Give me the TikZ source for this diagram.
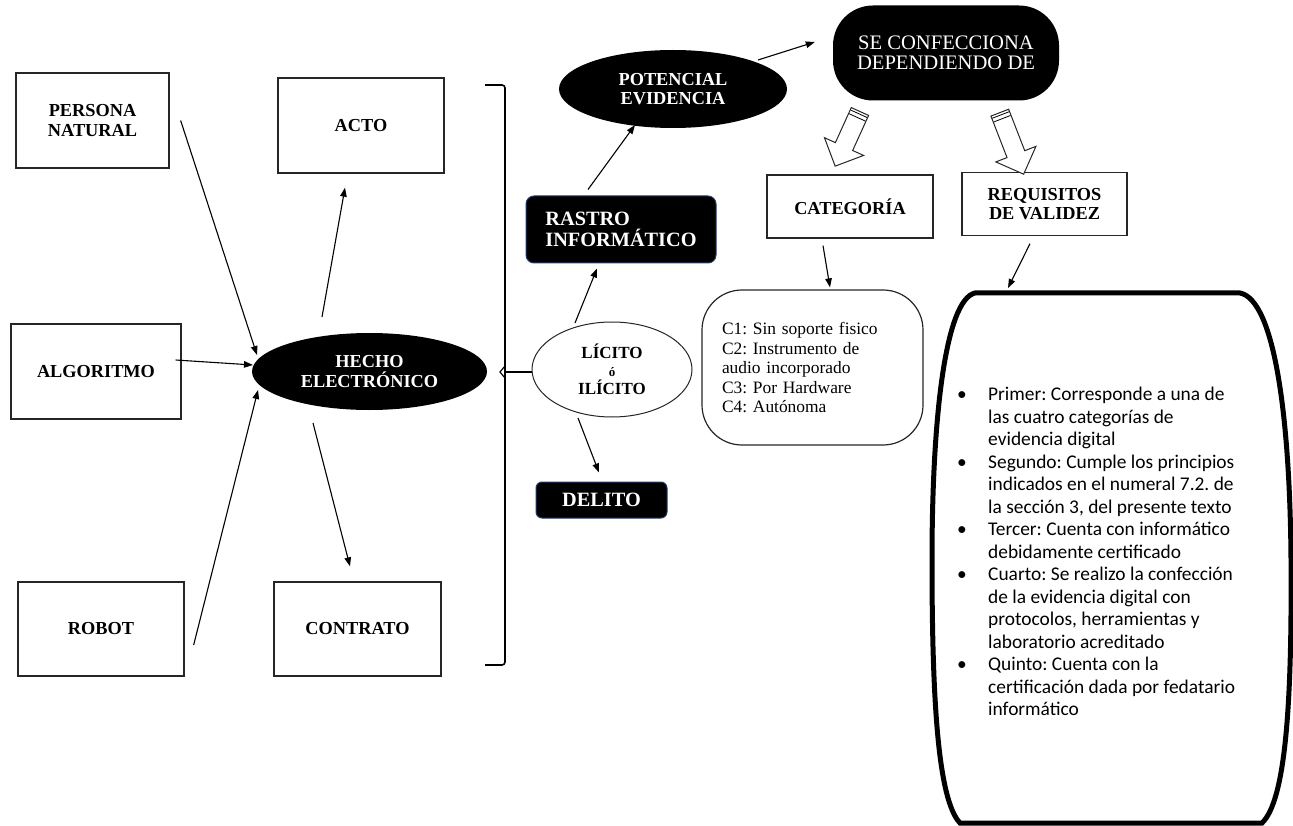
\documentclass[tikz,border=0pt]{standalone}
\usepackage{fontspec}
\setmainfont{Liberation Serif}
\newfontfamily\calibfont{Carlito}
\usetikzlibrary{arrows.meta,shapes.geometric,shapes.arrows,calc}
\definecolor{navyedge}{RGB}{40,60,105}
\frenchspacing
\newcommand\lab{\fontsize{18.3}{19.8}\selectfont\bfseries}
\newcommand\labbig{\fontsize{20.3}{20.5}\selectfont\bfseries}
\tikzset{
  sqbox/.style={draw=black!85, line width=1.3pt, fill=white, align=center, font=\lab, inner sep=0pt},
  blackell/.style={ellipse, fill=black, text=white, align=center, font=\lab, inner sep=0pt},
  blackbox/.style={rounded corners=8pt, fill=black, draw=navyedge, line width=1pt, text=white, inner sep=0pt},
  arr/.style={-{Triangle[length=9pt,width=6.5pt]}, line width=1.1pt},
  hollow/.style={single arrow, draw=black!85, line width=1pt, fill=white, inner xsep=0pt, inner ysep=9pt,
    single arrow head extend=12pt, minimum width=0pt},
}
\begin{document}
\begin{tikzpicture}[x=1pt,y=-1pt]
\useasboundingbox (0,0) rectangle (1293,826);

% left column boxes
\node[sqbox, minimum width=153pt, minimum height=95pt] (persona) at (92.5,120.5) {PERSONA\\NATURAL};
\node[sqbox, minimum width=170pt, minimum height=95pt] (algoritmo) at (96,371.5) {ALGORITMO};
\node[sqbox, minimum width=166pt, minimum height=94pt] (robot) at (101,629) {ROBOT};
\node[sqbox, minimum width=166pt, minimum height=95pt] (acto) at (361,125.5) {ACTO};
\node[sqbox, minimum width=167pt, minimum height=94pt] (contrato) at (357.5,629) {CONTRATO};

% central ellipse
\node[blackell, minimum width=235pt, minimum height=77pt] (hecho) at (369.5,371.5) {HECHO\\ELECTR\'ONICO};

% bracket
\draw[line width=1.6pt, rounded corners=3pt] (485,85) -- (505,85) -- (505,665) -- (485,665);
\draw[line width=1.2pt] (505,366) -- (500,372) -- (505,378);
\coordinate (brk) at (505,372);

% right of bracket
\node[ellipse, draw=black!85, line width=1pt, fill=white, minimum width=160pt, minimum height=95pt, inner sep=0pt, align=center,
  font=\fontsize{17}{19.5}\selectfont\bfseries] (licito) at (612,369.5) {L\'ICITO\\[-2pt]{\fontsize{13}{13}\selectfont \'o}\\[-1pt]IL\'ICITO};
\draw[line width=1.6pt] (brk) -- (licito.west |- brk);

\node[blackbox, minimum width=190pt, minimum height=67pt, align=left, font=\labbig] (rastro) at (621,229.5) {RASTRO\\INFORM\'ATICO};
\node[blackbox, rounded corners=6pt, minimum width=131pt, minimum height=36pt, font=\labbig] (delito) at (601.5,500) {DELITO};

\node[blackell, minimum width=228pt, minimum height=78pt] (potencial) at (673,89) {POTENCIAL\\EVIDENCIA};

\node[fill=black, rounded corners=40pt, minimum width=226pt, minimum height=95pt, text=white, align=center, inner sep=0pt,
  font=\fontsize{20.6}{20.5}\selectfont] (se) at (946,53) {SE CONFECCIONA\\DEPENDIENDO DE};

\node[sqbox, minimum width=166pt, minimum height=63pt] (categoria) at (850,206.5) {CATEGOR\'IA};
\node[sqbox, minimum width=165pt, minimum height=63pt] (requisitos) at (1044.5,204) {REQUISITOS\\DE VALIDEZ};

% hollow arrows
\node[hollow, minimum height=60pt, rotate=245.6] (hA) at (849.5,134.5) {};
\node[hollow, minimum height=66pt, rotate=291.2] (hB) at (1010,139) {};
\foreach \h in {hA,hB}{
  \foreach \d in {3,7}{
    \coordinate (t1) at ($(\h.tail)!\d pt!(\h.center)$);
    \draw[line width=0.8pt] ($(t1)!9pt!90:(\h.center)$) -- ($(t1)!9pt!-90:(\h.center)$);
  }
}

% C box
\node[draw=black!85, line width=1.2pt, rounded corners=40pt, minimum width=221pt, minimum height=155pt, align=left,
  text width=181pt, inner sep=0pt, font=\fontsize{17.4}{19.5}\selectfont] (cbox) at (812.5,367.5)
  {C1: Sin soporte fisico\\C2: Instrumento de\\audio incorporado\\C3: Por Hardware\\C4: Aut\'onoma};

% big box
\draw[line width=5pt] (975,293) -- (1240,293) .. controls (1275,300) and (1290,420) .. (1291,560)
  .. controls (1292,700) and (1286,800) .. (1262,823) -- (960,823)
  .. controls (938,800) and (932,700) .. (932,560) .. controls (932,420) and (945,300) .. (975,293) -- cycle;
\coordinate (bigtop) at (1008,293);

\node[anchor=north west, inner sep=0pt, font=\calibfont\fontsize{19.4}{22.5}\selectfont] (reqtext) at (957,385)
{\begin{tabular}{@{}l@{}l@{}}
\makebox[31pt][l]{\textbullet} & Primer: Corresponde a una de\\
 & las cuatro categorías de\\
 & evidencia digital\\
\makebox[31pt][l]{\textbullet} & Segundo: Cumple los principios\\
 & indicados en el numeral 7.2. de\\
 & la sección 3, del presente texto\\
\makebox[31pt][l]{\textbullet} & Tercer: Cuenta con informático\\
 & debidamente certificado\\
\makebox[31pt][l]{\textbullet} & Cuarto: Se realizo la confección\\
 & de la evidencia digital con\\
 & protocolos, herramientas y\\
 & laboratorio acreditado\\
\makebox[31pt][l]{\textbullet} & Quinto: Cuenta con la\\
 & certificación dada por fedatario\\
 & informático
\end{tabular}};

% connectors
\draw[arr] ($(persona.east)+(11,0)$) -- ($(hecho.center)+(-112.5,-16.5)$);
\draw[arr] ($(algoritmo.east)+(-6,-11.5)$) -- ($(hecho.center)+(-116.5,-6.5)$);
\draw[arr] ($(robot.east)+(9,16)$) -- ($(hecho.center)+(-111.5,18.5)$);
\draw[arr] ($(hecho.center)+(-47.5,-54.5)$) -- ($(acto.south)+(-16,14)$);
\draw[arr] ($(hecho.center)+(-56.5,51.5)$) -- ($(contrato.north)+(-7.5,-15)$);
\draw[arr] ($(licito.center)+(-37,-46.5)$) -- ($(rastro.south)+(-24,5)$);
\draw[arr] ($(licito.center)+(-34,48.5)$) -- ($(delito.north)+(-2.5,-9)$);
\draw[arr] ($(rastro.north)+(-33,-6)$) -- ($(potencial.center)+(-38,36)$);
\draw[arr] ($(potencial.center)+(85,-29)$) -- ($(se.west)+(-18,-11)$);
\draw[arr] ($(categoria.south)+(-27,7)$) -- ($(cbox.north)+(17.5,-2)$);
\draw[arr] ($(requisitos.south)+(-14.5,7.5)$) -- ($(bigtop)+(0,-5)$);
\end{tikzpicture}
\end{document}
